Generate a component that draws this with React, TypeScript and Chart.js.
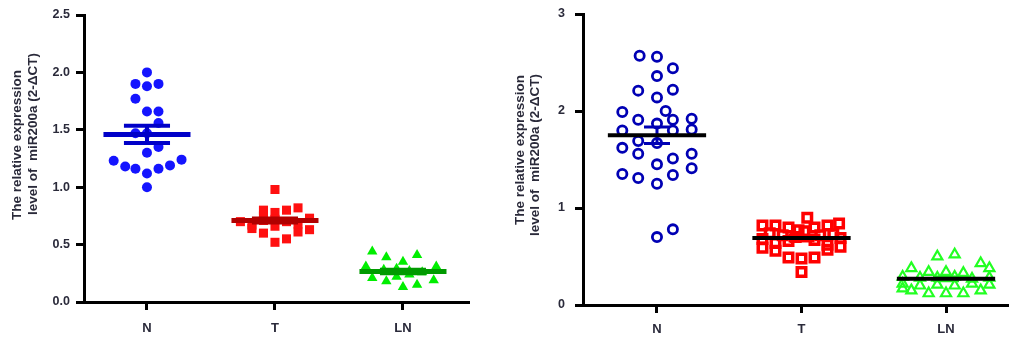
import React, { useEffect, useRef } from "react";
import { Chart, registerables } from "chart.js";
Chart.register(...registerables);

const categories = ["N", "T", "LN"];
const yTitleLines = ["The relative expression", "level of  miR200a (2-\u0394CT)"];

// ----- Left chart (filled markers) -----
const leftNValues = [2.0, 1.9, 1.88, 1.9, 1.77, 1.66, 1.66, 1.56, 1.47, 1.47, 1.35, 1.3, 1.23, 1.18, 1.16, 1.12, 1.16, 1.19, 1.24, 1.0];
const leftNOffsets = [0, -0.09, 0, 0.09, -0.09, 0, 0.09, 0.09, -0.09, 0, 0.09, 0, -0.26, -0.17, -0.09, 0, 0.09, 0.18, 0.27, 0];
const leftTValues = [0.98, 0.8, 0.78, 0.8, 0.82, 0.7, 0.64, 0.6, 0.52, 0.55, 0.61, 0.63, 0.73, 0.75, 0.72, 0.7, 0.67, 0.68, 0.71, 0.66];
const leftTOffsets = [0, -0.09, 0, 0.09, 0.18, -0.27, -0.18, -0.09, 0, 0.09, 0.18, 0.27, 0.27, -0.09, 0, 0.09, -0.18, 0.18, -0.09, 0];
const leftLNValues = [0.44, 0.39, 0.35, 0.41, 0.31, 0.31, 0.21, 0.18, 0.13, 0.15, 0.19, 0.28, 0.29, 0.27, 0.26, 0.22, 0.24];
const leftLNOffsets = [-0.24, -0.13, 0, 0.11, -0.29, 0.26, -0.24, -0.13, 0, 0.11, 0.24, -0.15, -0.05, 0.05, 0.15, -0.05, 0.05];
const leftMeans = [1.46, 0.71, 0.265];
const leftSEM = [0.075, 0.018, 0.015];
const leftYTicks = [0, 0.5, 1.0, 1.5, 2.0, 2.5];

// ----- Right chart (open markers) -----
const rightNValues = [2.57, 2.56, 2.44, 2.36, 2.21, 2.14, 2.22, 1.99, 2.0, 1.91, 1.87, 1.91, 1.92, 1.8, 1.8, 1.81, 1.69, 1.67, 1.62, 1.56, 1.56, 1.51, 1.45, 1.41, 1.35, 1.31, 1.25, 1.34, 0.7, 0.78];
const rightNOffsets = [-0.12, 0, 0.11, 0, -0.13, 0, 0.11, -0.24, 0.06, -0.13, 0, 0.11, 0.24, -0.24, 0.11, 0.24, -0.13, 0, -0.24, -0.13, 0.24, 0.11, 0, 0.24, -0.24, -0.13, 0, 0.11, 0, 0.11];
const rightTValues = [0.82, 0.82, 0.8, 0.77, 0.9, 0.8, 0.82, 0.84, 0.74, 0.72, 0.7, 0.76, 0.72, 0.73, 0.68, 0.66, 0.67, 0.69, 0.59, 0.56, 0.49, 0.48, 0.49, 0.57, 0.6, 0.34, 0.64, 0.62];
const rightTOffsets = [-0.27, -0.18, -0.09, -0.02, 0.04, 0.09, 0.18, 0.26, -0.22, -0.13, -0.04, 0.02, 0.13, 0.22, -0.27, -0.09, 0.09, 0.27, -0.27, -0.18, -0.09, 0, 0.09, 0.18, 0.27, 0, -0.18, 0.18];
const rightLNValues = [0.5, 0.52, 0.38, 0.34, 0.34, 0.33, 0.43, 0.38, 0.29, 0.28, 0.28, 0.29, 0.27, 0.28, 0.22, 0.2, 0.21, 0.2, 0.22, 0.21, 0.15, 0.12, 0.12, 0.12, 0.15, 0.17];
const rightLNOffsets = [-0.06, 0.06, -0.24, -0.12, 0, 0.12, 0.24, 0.3, -0.3, -0.18, -0.06, 0.06, 0.18, 0.3, -0.3, -0.18, -0.06, 0.06, 0.18, 0.3, -0.24, -0.12, 0, 0.12, 0.24, -0.3];
const rightMeans = [1.75, 0.69, 0.27];
const rightSEM = [0.085, 0.03, 0.02];
const rightYTicks = [0, 1, 2, 3];

const TEXT = "#2a2a3a";
const FONT = "Arial, 'Liberation Sans', sans-serif";

function pts(cat: number, values: number[], offsets: number[]) {
  return values.map((v, i) => ({ x: cat + offsets[i], y: v }));
}

function lineDs(data: any[], color: string, width: number, order: number) {
  return {
    type: "line",
    data,
    borderColor: color,
    borderWidth: width,
    pointRadius: 0,
    showLine: true,
    fill: false,
    order,
    borderCapStyle: "butt",
  };
}

function summaryDatasets(means: number[], sems: number[], meanColors: string[], semColors: string[], meanHalf: number, capHalf: number, meanW: number, semW: number) {
  const out: any[] = [];
  means.forEach((m, c) => {
    const s = sems[c];
    out.push(lineDs([{ x: c - meanHalf, y: m }, { x: c + meanHalf, y: m }], meanColors[c], meanW, 1));
    out.push(lineDs([{ x: c, y: m - s }, { x: c, y: m + s }], semColors[c], semW, 2));
    out.push(lineDs([{ x: c - capHalf, y: m + s }, { x: c + capHalf, y: m + s }], semColors[c], semW, 2));
    out.push(lineDs([{ x: c - capHalf, y: m - s }, { x: c + capHalf, y: m - s }], semColors[c], semW, 2));
  });
  return out;
}

function scatterDs(data: any[], style: string, radius: number, fill: string, border: string, bw: number) {
  return {
    type: "scatter",
    data,
    pointStyle: style,
    pointRadius: radius,
    pointBackgroundColor: fill,
    pointBorderColor: border,
    pointBorderWidth: bw,
    showLine: false,
    order: 3,
  };
}

type PanelProps = {
  left: number;
  width: number;
  datasets: any[];
  xMin: number;
  xMax: number;
  yMax: number;
  yTicks: number[];
  decimals: number;
  yAxisWidth: number;
  xAxisHeight: number;
  padTop: number;
  padRight: number;
  yTickPad: number;
  xTickPad: number;
  titleXs: number[];
  titleYs: number[];
  titleFont: string;
};

function Panel(p: PanelProps) {
  const ref = useRef<HTMLCanvasElement | null>(null);
  useEffect(() => {
    if (!ref.current) return;
    const titlePlugin = {
      id: "yTitleCustom",
      afterDraw(chart: any) {
        const ctx = chart.ctx;
        ctx.save();
        ctx.fillStyle = TEXT;
        ctx.font = p.titleFont;
        ctx.textAlign = "center";
        ctx.textBaseline = "middle";
        yTitleLines.forEach((line, i) => {
          ctx.save();
          ctx.translate(p.titleXs[i], p.titleYs[i]);
          ctx.rotate(-Math.PI / 2);
          ctx.fillText(line, 0, 0);
          ctx.restore();
        });
        ctx.restore();
      },
    };
    const chart = new Chart(ref.current, {
      type: "scatter",
      data: { datasets: p.datasets as any },
      options: {
        responsive: false,
        animation: false,
        events: [],
        layout: { autoPadding: false, padding: { top: p.padTop, right: p.padRight, left: 0, bottom: 0 } },
        plugins: { legend: { display: false }, tooltip: { enabled: false } },
        scales: {
          x: {
            type: "linear",
            min: p.xMin,
            max: p.xMax,
            afterFit: (s: any) => {
              s.height = p.xAxisHeight;
              s.paddingLeft = 0;
              s.paddingRight = 0;
            },
            afterBuildTicks: (s: any) => { s.ticks = categories.map((_, i) => ({ value: i })); },
            ticks: {
              callback: (v: any) => categories[Math.round(Number(v))] ?? "",
              font: { family: FONT, size: 13, weight: "bold" },
              color: TEXT,
              padding: p.xTickPad,
              maxRotation: 0,
            },
            grid: { drawOnChartArea: false, drawTicks: true, tickLength: 8, lineWidth: 3, color: "#000" },
            border: { display: true, color: "#000", width: 3 },
          },
          y: {
            type: "linear",
            min: 0,
            max: p.yMax,
            afterFit: (s: any) => {
              s.width = p.yAxisWidth;
              s.paddingTop = 0;
              s.paddingBottom = 0;
            },
            afterBuildTicks: (s: any) => { s.ticks = p.yTicks.map((v) => ({ value: v })); },
            ticks: {
              callback: (v: any) => Number(v).toFixed(p.decimals),
              font: { family: FONT, size: 12.5, weight: "bold" },
              color: TEXT,
              padding: p.yTickPad,
            },
            grid: { drawOnChartArea: false, drawTicks: true, tickLength: 8, lineWidth: 3, color: "#000" },
            border: { display: true, color: "#000", width: 3 },
          },
        },
      } as any,
      plugins: [titlePlugin],
    });
    return () => chart.destroy();
  }, []);
  return (
    <canvas
      ref={ref}
      width={p.width}
      height={338}
      style={{ position: "absolute", left: p.left, top: 0, width: p.width, height: 338 }}
    />
  );
}

const leftDatasets = [
  ...summaryDatasets(leftMeans, leftSEM, ["#0000c8", "#b00000", "#009a00"], ["#0000c8", "#b00000", "#009a00"], 0.34, 0.18, 5, 4),
  scatterDs(pts(0, leftNValues, leftNOffsets), "circle", 5, "#1414ff", "#1414ff", 0),
  scatterDs(pts(1, leftTValues, leftTOffsets), "rect", 6.4, "#ff1010", "#ff1010", 0),
  scatterDs(pts(2, leftLNValues, leftLNOffsets), "triangle", 6, "#00ee00", "#00ee00", 0),
];

const rightDatasets = [
  ...summaryDatasets(rightMeans, rightSEM, ["#000", "#000", "#000"], ["#0000b4", "#ff0000", "#22ee22"], 0.34, 0.09, 4, 3),
  scatterDs(pts(0, rightNValues, rightNOffsets), "circle", 4.6, "rgba(0,0,0,0)", "#0000b4", 2.8),
  scatterDs(pts(1, rightTValues, rightTOffsets), "rect", 6, "rgba(0,0,0,0)", "#ff0000", 3.5),
  scatterDs(pts(2, rightLNValues, rightLNOffsets), "triangle", 5.8, "rgba(0,0,0,0)", "#22ff22", 2.2),
];

export default function App() {
  return (
    <div style={{ position: "absolute", left: 0, top: 0, width: 1009, height: 338, background: "#fff" }}>
      <Panel
        left={0}
        width={490}
        datasets={leftDatasets}
        xMin={-0.492}
        xMax={2.508}
        yMax={2.5}
        yTicks={leftYTicks}
        decimals={1}
        yAxisWidth={84}
        xAxisHeight={36}
        padTop={15}
        padRight={22}
        yTickPad={6}
        xTickPad={11}
        titleXs={[17, 33]}
        titleYs={[145, 134]}
        titleFont={"bold 13.5px " + FONT}
      />
      <Panel
        left={495}
        width={514}
        datasets={rightDatasets}
        xMin={-0.512}
        xMax={2.422}
        yMax={3}
        yTicks={rightYTicks}
        decimals={0}
        yAxisWidth={88}
        xAxisHeight={33}
        padTop={14}
        padRight={2}
        yTickPad={10}
        xTickPad={9}
        titleXs={[25, 40]}
        titleYs={[150, 155]}
        titleFont={"bold 13.5px " + FONT}
      />
    </div>
  );
}
